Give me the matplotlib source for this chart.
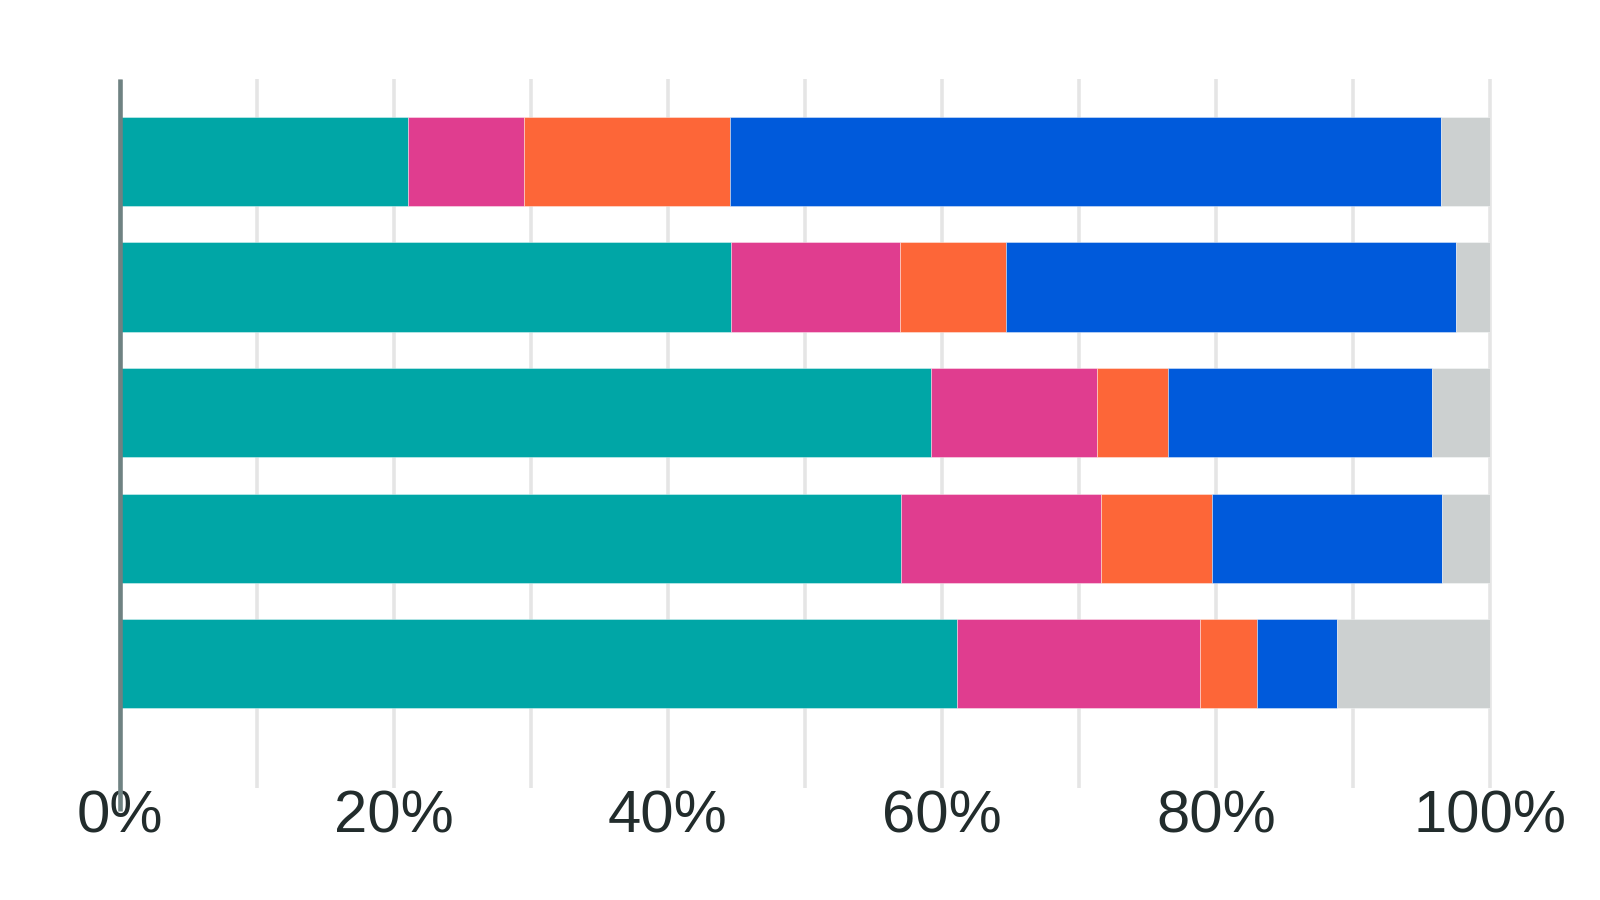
import numpy as np
import matplotlib
matplotlib.use('Agg')
import matplotlib.pyplot as plt

plt.rcParams['font.family'] = ['Liberation Sans', 'DejaVu Sans']

# share of each group per bar, top bar first (percent)
rows = ['1', '2', '3', '4', '5']
teal = [21.0, 44.6, 59.2, 57.0, 61.1]
pink = [8.5, 12.3, 12.1, 14.6, 17.7]
orange = [15.0, 7.8, 5.2, 8.1, 4.2]
blue = [51.9, 32.8, 19.3, 16.8, 5.8]
grey = [3.6, 2.5, 4.2, 3.5, 11.2]

series = [teal, pink, orange, blue, grey]
colours = ['#00a6a6', '#e03d8f', '#fd6638', '#005adb', '#ccd0d0']

tick_vals = [0, 20, 40, 60, 80, 100]
tick_labels = ['0%', '20%', '40%', '60%', '80%', '100%']

fig = plt.figure(figsize=(16, 9), dpi=100)
ax = fig.add_axes([120 / 1600, 1 - 788 / 900, 1370 / 1600, 709 / 900])

y = np.arange(len(rows))
left = np.zeros(len(rows))
for vals, col in zip(series, colours):
    vals = np.array(vals)
    ax.barh(y, vals, left=left, height=0.71, color=col,
            edgecolor=(1, 1, 1, 0.45), linewidth=0.6, zorder=2)
    left += vals

ax.set_xlim(0, 100)
ax.set_ylim(4.99, -0.657)

ax.set_xticks(tick_vals)
ax.set_xticklabels(tick_labels, fontsize=43, color='#222c2c')
ax.set_xticks(np.arange(10, 100, 10), minor=True)
ax.tick_params(axis='x', which='both', length=0, pad=1)
ax.set_yticks([])
ax.grid(axis='x', which='both', color='#e5e5e5', linewidth=2.6, zorder=0,
        solid_capstyle='butt')
ax.set_axisbelow(True)
for gl in ax.get_xgridlines():
    gl.set_clip_on(False)

for s in ['top', 'right', 'bottom', 'left']:
    ax.spines[s].set_visible(False)

# left axis line, runs a little past the plot bottom into the labels
ax.plot([0, 0], [5.17, -0.657], color='#6f8282', linewidth=3.3,
        clip_on=False, zorder=3, solid_capstyle='butt')

fig.savefig('out.png', dpi=100, facecolor='white')
